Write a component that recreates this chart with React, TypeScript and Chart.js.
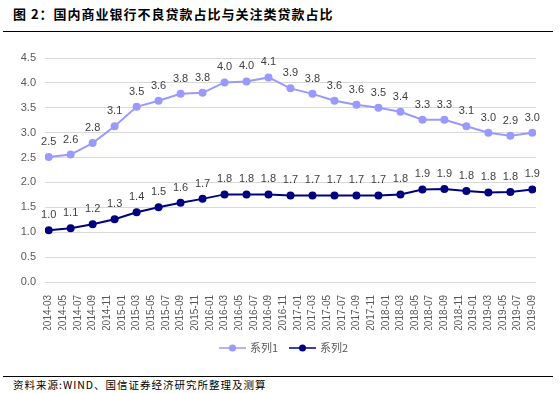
import React, { useEffect, useRef } from "react";
import { Chart, registerables } from "chart.js";

Chart.register(...registerables);

const titleText = "图 2：国内商业银行不良贷款占比与关注类贷款占比";
const sourceText = "资料来源:WIND、国信证券经济研究所整理及测算";
const seriesNames = ["系列1", "系列2"];

const quarters = [
  "2014-03", "2014-06", "2014-09", "2014-12",
  "2015-03", "2015-06", "2015-09", "2015-12",
  "2016-03", "2016-06", "2016-09", "2016-12",
  "2017-03", "2017-06", "2017-09", "2017-12",
  "2018-03", "2018-06", "2018-09", "2018-12",
  "2019-03", "2019-06", "2019-09",
];

const series1 = [
  2.51, 2.56, 2.79, 3.13,
  3.52, 3.64, 3.78, 3.8,
  4.01, 4.03, 4.11, 3.89,
  3.78, 3.64, 3.56, 3.5,
  3.42, 3.26, 3.26, 3.13,
  3.0, 2.94, 3.0,
];

const series2 = [
  1.04, 1.08, 1.16, 1.26,
  1.4, 1.5, 1.59, 1.67,
  1.76, 1.76, 1.76, 1.74,
  1.74, 1.74, 1.74, 1.74,
  1.76, 1.86, 1.87, 1.83,
  1.8, 1.81, 1.86,
];

const tickLabels = [
  "2014-03", "2014-05", "2014-07", "2014-09", "2014-11",
  "2015-01", "2015-03", "2015-05", "2015-07", "2015-09", "2015-11",
  "2016-01", "2016-03", "2016-05", "2016-07", "2016-09", "2016-11",
  "2017-01", "2017-03", "2017-05", "2017-07", "2017-09", "2017-11",
  "2018-01", "2018-03", "2018-05", "2018-07", "2018-09", "2018-11",
  "2019-01", "2019-03", "2019-05", "2019-07", "2019-09",
];

const colors = ["#9999FF", "#000080"];

const FONT = '"Liberation Sans", Arial, "Noto Sans CJK SC", sans-serif';
const CJK = '"Noto Sans CJK SC", "Liberation Sans", sans-serif';

function monthIndex(label: string): number {
  const [y, m] = label.split("-").map(Number);
  return (y - 2014) * 12 + (m - 3);
}

const dataLabelPlugin = {
  id: "dataLabels",
  afterDatasetsDraw(chart: any) {
    const ctx = chart.ctx;
    ctx.save();
    ctx.font = `11px ${FONT}`;
    ctx.fillStyle = "#404040";
    ctx.textAlign = "center";
    ctx.textBaseline = "middle";
    chart.data.datasets.forEach((ds: any, i: number) => {
      const meta = chart.getDatasetMeta(i);
      meta.data.forEach((pt: any, j: number) => {
        ctx.fillText(ds.data[j].y.toFixed(1), pt.x, pt.y - 15);
      });
    });
    ctx.restore();
  },
};

const legendPlugin = {
  id: "customLegend",
  afterDraw(chart: any) {
    const ctx = chart.ctx;
    const y = chart.chartArea.bottom + 66;
    let x = 219;
    ctx.save();
    chart.data.datasets.forEach((ds: any) => {
      ctx.strokeStyle = ds.borderColor;
      ctx.lineWidth = 1.5;
      ctx.beginPath();
      ctx.moveTo(x, y);
      ctx.lineTo(x + 27, y);
      ctx.stroke();
      ctx.fillStyle = ds.borderColor;
      ctx.beginPath();
      ctx.arc(x + 13.5, y, 3.5, 0, Math.PI * 2);
      ctx.fill();
      ctx.font = `11px ${CJK}`;
      ctx.fillStyle = "#595959";
      ctx.textAlign = "left";
      ctx.textBaseline = "middle";
      ctx.fillText(ds.label, x + 31, y);
      x += 70;
    });
    ctx.restore();
  },
};

export default function App() {
  const canvasRef = useRef<HTMLCanvasElement | null>(null);

  useEffect(() => {
    if (!canvasRef.current) return;
    const chart = new Chart(canvasRef.current, {
      type: "line",
      data: {
        datasets: [series1, series2].map((s, i) => ({
          label: seriesNames[i],
          data: quarters.map((q, j) => ({ x: monthIndex(q), y: s[j] })),
          borderColor: colors[i],
          backgroundColor: colors[i],
          borderWidth: 2,
          pointRadius: 4,
          pointBorderWidth: 0,
          pointBackgroundColor: colors[i],
          tension: 0,
        })),
      },
      options: {
        animation: false,
        responsive: false,
        layout: { padding: { top: 22, right: 24, bottom: 36, left: 0 } },
        plugins: {
          legend: { display: false },
          tooltip: { enabled: false },
        },
        scales: {
          x: {
            type: "linear",
            min: -0.5,
            max: 66.5,
            grid: { display: false },
            border: { display: false },
            afterBuildTicks: (scale: any) => {
              scale.ticks = tickLabels.map((l) => ({ value: monthIndex(l) }));
            },
            afterFit: (scale: any) => {
              scale.height = 48;
            },
            ticks: {
              autoSkip: false,
              minRotation: 90,
              maxRotation: 90,
              padding: 5,
              color: "#595959",
              font: { size: 10, family: FONT },
              callback: (_v: any, i: number) => tickLabels[i],
            },
          },
          y: {
            min: 0,
            max: 4.5,
            grid: { color: "#d9d9d9", drawTicks: false },
            border: { display: false },
            afterFit: (scale: any) => {
              scale.width = 45;
            },
            ticks: {
              stepSize: 0.5,
              padding: 9,
              color: "#595959",
              font: { size: 11, family: FONT },
              callback: (v: any) => Number(v).toFixed(1),
            },
          },
        },
      },
      plugins: [dataLabelPlugin, legendPlugin],
    } as any);
    return () => chart.destroy();
  }, []);

  return (
    <div
      style={{
        position: "absolute",
        left: 0,
        top: 0,
        width: 560,
        height: 393,
        background: "#fff",
        overflow: "hidden",
      }}
    >
      <div
        style={{
          position: "absolute",
          left: 13,
          top: 5,
          fontFamily: CJK,
          fontWeight: "bold",
          fontSize: 13,
          letterSpacing: 1,
          lineHeight: "18px",
          color: "#000",
          whiteSpace: "nowrap",
        }}
      >
        {titleText}
      </div>
      <div
        style={{
          position: "absolute",
          left: 3,
          top: 31,
          width: 550,
          height: 1,
          background: "#000",
        }}
      />
      <canvas
        ref={canvasRef}
        width={560}
        height={330}
        style={{ position: "absolute", left: 0, top: 36, display: "block" }}
      />
      <div
        style={{
          position: "absolute",
          left: 3,
          top: 376,
          width: 550,
          height: 1,
          background: "#000",
        }}
      />
      <div
        style={{
          position: "absolute",
          left: 13,
          top: 378,
          fontFamily: CJK,
          fontSize: 10.5,
          letterSpacing: 1,
          lineHeight: "13px",
          color: "#000",
          whiteSpace: "nowrap",
        }}
      >
        {sourceText}
      </div>
    </div>
  );
}
